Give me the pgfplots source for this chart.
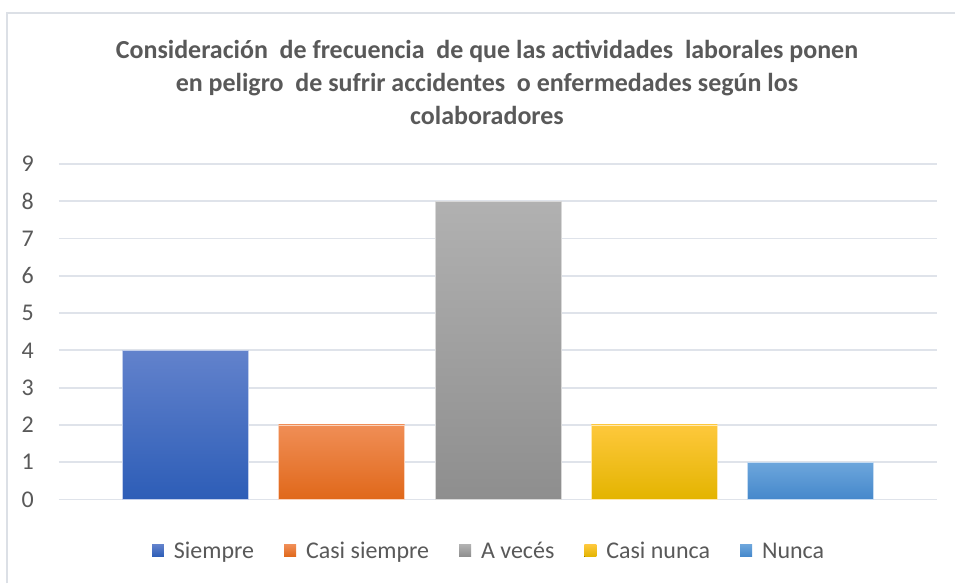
\documentclass[border=0pt]{standalone}
\usepackage{fontspec}
\setmainfont{Carlito}
\usepackage{pgfplots}
\pgfplotsset{compat=1.18}
\definecolor{txt}{HTML}{595959}
\definecolor{gridc}{HTML}{DFE3EA}
\definecolor{bordc}{HTML}{DCE0E6}
\definecolor{bT}{HTML}{6282CC}\definecolor{bM}{HTML}{4472C4}\definecolor{bB}{HTML}{2D5DB7}
\definecolor{oT}{HTML}{F08E56}\definecolor{oM}{HTML}{F07C2A}\definecolor{oB}{HTML}{E0681A}
\definecolor{gT}{HTML}{B1B1B1}\definecolor{gM}{HTML}{A3A3A3}\definecolor{gB}{HTML}{8E8E8E}
\definecolor{yT}{HTML}{FEC83C}\definecolor{yM}{HTML}{FFC000}\definecolor{yB}{HTML}{E3B400}
\definecolor{nT}{HTML}{6DA6DC}\definecolor{nM}{HTML}{5B9BD5}\definecolor{nB}{HTML}{4588CB}
\begin{document}
\begin{tikzpicture}
\fill[white] (0pt,0pt) rectangle (478pt,-292pt);
\draw[bordc, line width=1pt] (3.75pt,-292pt) -- (3.75pt,-6.75pt) -- (478pt,-6.75pt);
\node[align=center, font=\fontsize{13}{16.5}\selectfont\bfseries, text=txt] at (243.75pt,-41.5pt)
 {Consideración\ \ de frecuencia\ \ de que las actividades\ \ laborales ponen\\
  en peligro\ \ de sufrir accidentes\ \ o enfermedades según los\\
  colaboradores};
\begin{axis}[
  at={(29.5pt,-250pt)}, anchor=south west,
  scale only axis, width=439.5pt, height=168pt,
  xmin=-0.807, xmax=4.807, ymin=0, ymax=9,
  ytick={0,1,...,9}, xtick=\empty,
  axis line style={draw=none},
  ymajorgrids, grid style={draw=gridc, line width=0.9pt},
  major tick length=0pt,
  yticklabel style={font=\fontsize{12}{14}\selectfont, text=txt, xshift=-9pt},
  /pgf/number format/assume math mode=true,
  ybar, bar width=63pt, bar shift=0pt,
  legend columns=-1,
  legend style={at={(0.491,-0.152)}, anchor=center, draw=none, fill=none,
    font=\fontsize{12}{14}\selectfont, text=txt,
    /tikz/every odd column/.append style={column sep=3pt},
    /tikz/every even column/.append style={column sep=13pt}},
  legend image code/.code={\fill[#1, draw=none] (0pt,-3pt) rectangle (6pt,3pt);},
]
\addplot[top color=bT, middle color=bM, bottom color=bB, draw=bT!40, line width=0.4pt] coordinates {(0,4)};
\addlegendentry{Siempre\strut}
\addplot[top color=oT, middle color=oM, bottom color=oB, draw=oT!40, line width=0.4pt] coordinates {(1,2)};
\addlegendentry{Casi siempre\strut}
\addplot[top color=gT, middle color=gM, bottom color=gB, draw=gT!50, line width=0.4pt] coordinates {(2,8)};
\addlegendentry{A vecés\strut}
\addplot[top color=yT, middle color=yM, bottom color=yB, draw=yT!40, line width=0.4pt] coordinates {(3,2)};
\addlegendentry{Casi nunca\strut}
\addplot[top color=nT, middle color=nM, bottom color=nB, draw=nT!40, line width=0.4pt] coordinates {(4,1)};
\addlegendentry{Nunca\strut}
\end{axis}
\end{tikzpicture}
\end{document}
